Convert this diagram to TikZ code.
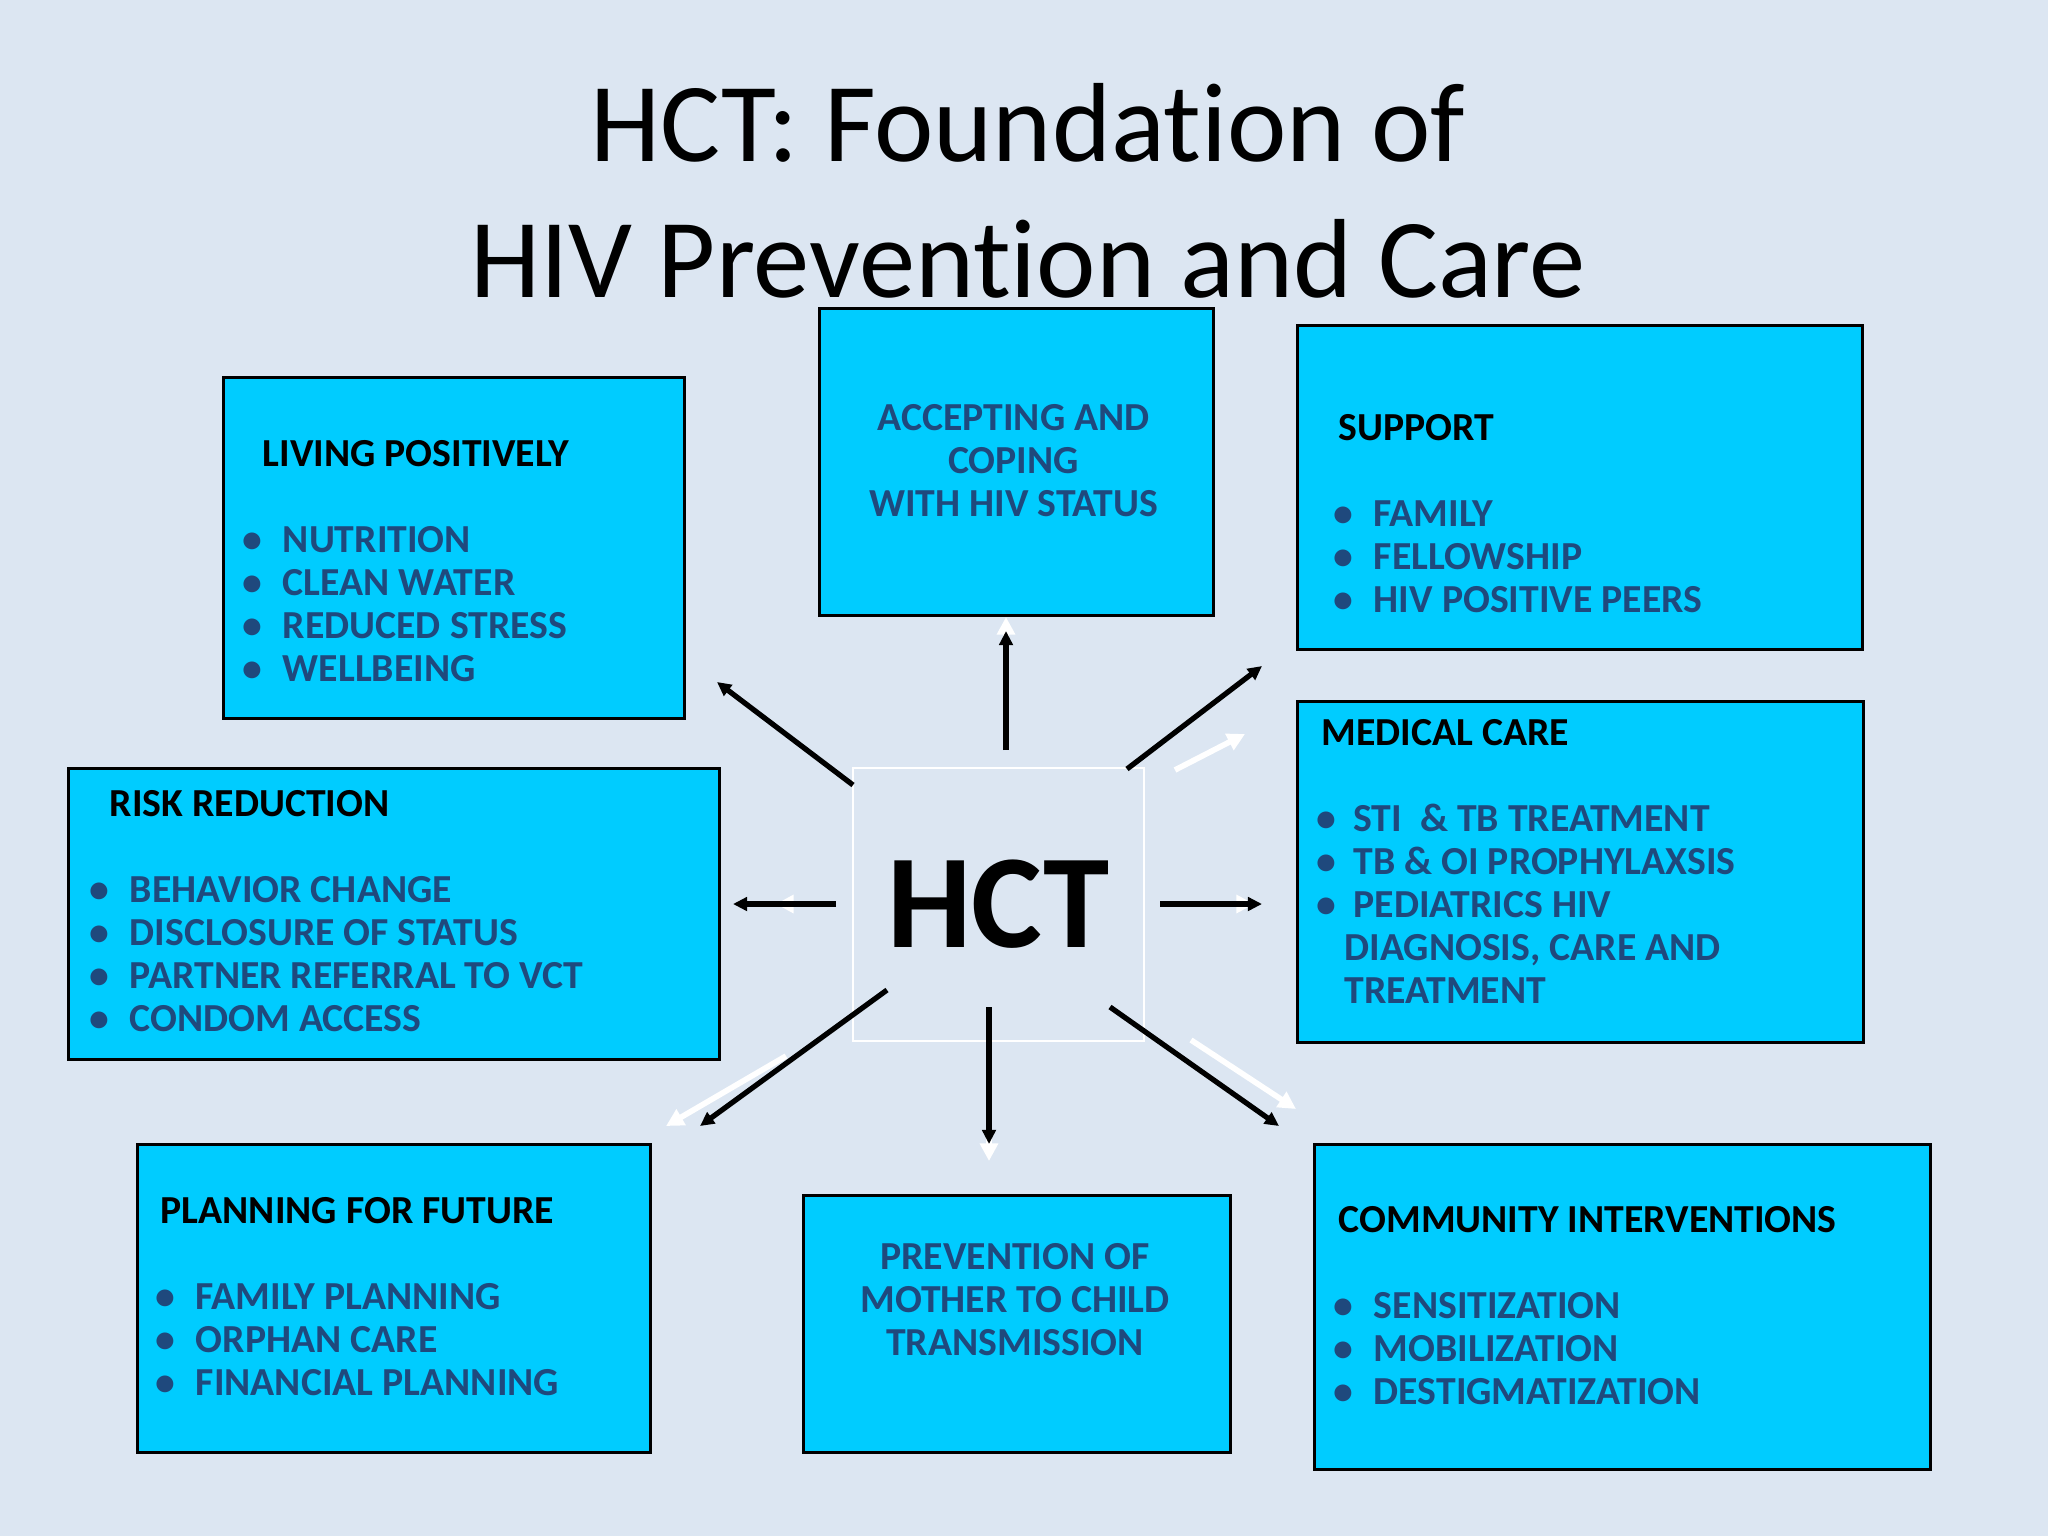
\documentclass[tikz,border=0pt]{standalone}
\usepackage{fontspec}
\setmainfont{Carlito}[Ligatures=NoCommon]
\usetikzlibrary{arrows.meta}
\definecolor{slidebg}{HTML}{DCE6F2}
\definecolor{boxcyan}{HTML}{00CCFF}
\definecolor{itemblue}{HTML}{1F497D}
\newcommand\bul[1][10pt]{\makebox[#1][l]{\hspace{-1.4pt}\textbullet}}
\newcommand\hd[1]{\textcolor{black}{#1}}

\begin{document}
\begin{tikzpicture}[x=0.01cm, y=-0.01cm,
  box/.style={draw=black, line width=0.8pt, fill=boxcyan, anchor=north west, inner sep=0pt},
  txt/.style={anchor=north west, inner sep=0pt, align=left, text=itemblue,
    font=\bfseries\fontsize{11.3}{12.2}\selectfont},
  ctr/.style={txt, anchor=north, align=center},
  blk/.style={line width=1.5pt, -{Triangle[length=4pt,width=3.8pt]}},
  wht/.style={white, line width=1.6pt, -{Triangle[length=5pt,width=5pt]}}
  ]
  \fill[slidebg] (0,0) rectangle (2048,1536);
  \node[font=\fontsize{32}{38.7}\selectfont, align=center, anchor=north, inner sep=0pt]
    (title) at (1028,83) {HCT: Foundat\kern0pt ion of\\HIV Prevent\kern0pt ion and Care};

  % boxes round the hub
  \node[box, minimum width=4.61cm, minimum height=3.41cm] (living) at (222,376) {};
  \node[box, minimum width=3.94cm, minimum height=3.07cm] (accept) at (818,307) {};
  \node[box, minimum width=5.65cm, minimum height=3.24cm] (support) at (1296,324) {};
  \node[box, minimum width=5.66cm, minimum height=3.41cm] (medical) at (1296,700) {};
  \node[box, minimum width=6.51cm, minimum height=2.91cm] (risk) at (67,767) {};
  \node[box, minimum width=5.13cm, minimum height=3.08cm] (planning) at (136,1143) {};
  \node[box, minimum width=4.27cm, minimum height=2.57cm] (prevent) at (802,1194) {};
  \node[box, minimum width=6.16cm, minimum height=3.25cm] (community) at (1313,1143) {};

  \node[txt] (livingT) at ([shift={(25,64)}]living.north west)
    {\hspace{4.3pt}\hd{LIVING POSITIVELY}\\[12.2pt]
     \bul NUTRITION\\ \bul CLEAN WATER\\ \bul REDUCED STRESS\\ \bul WELLBEING};
  \node[ctr] (acceptT) at ([shift={(-3,97)}]accept.north)
    {ACCEPTING AND\\COPING\\WITH HIV STATUS};
  \node[txt] (supportT) at ([shift={(42,90)}]support.north west)
    {\hd{SUPPORT}\\[12.2pt]
     \bul FAMILY\\ \bul FELLOWSHIP\\ \bul HIV POSITIVE PEERS};
  \node[txt] (medicalT) at ([shift={(25,19)}]medical.north west)
    {\hd{MEDICAL CARE}\\[12.2pt]
     \bul[6.5pt]\ STI\ \ \& TB TREATMENT\\
     \bul[6.5pt]\ TB \& OI PROPHYLAXSIS\\
     \bul[6.5pt]\ PEDIATRICS HIV\\
     \hspace{6.5pt}DIAGNOSIS, CARE AND\\
     \hspace{6.5pt}TREATMENT};
  \node[txt] (riskT) at ([shift={(27,23)}]risk.north west)
    {\hspace{4.3pt}\hd{RISK REDUCTION}\\[12.2pt]
     \bul BEHAVIOR CHANGE\\ \bul DISCLOSURE OF STATUS\\
     \bul PARTNER REFERRAL TO VCT\\ \bul CONDOM ACCESS};
  \node[txt] (planningT) at ([shift={(24,54)}]planning.north west)
    {\hd{PLANNING FOR FUTURE}\\[12.2pt]
     \bul FAMILY PLANNING\\ \bul ORPHAN CARE\\ \bul FINANCIAL PLANNING};
  \node[ctr] (preventT) at ([shift={(-2,49)}]prevent.north)
    {PREVENTION OF\\MOTHER TO CHILD\\TRANSMISSION};
  \node[txt] (communityT) at ([shift={(25,63)}]community.north west)
    {\hd{COMMUNITY INTERVENTIONS}\\[12.2pt]
     \bul SENSITIZATION\\ \bul MOBILIZATION\\ \bul DESTIGMATIZATION};

  % hub
  \node[draw=white, line width=0.5pt, minimum width=2.91cm, minimum height=2.73cm,
    inner sep=0pt, font=\bfseries\fontsize{38}{40}\selectfont] (hct) at (998.5,904.5) {HCT};

  % arrow ends
  \coordinate (upS) at (1006,750);  \coordinate (upE) at (1006,631);  \coordinate (upW) at (1006,617);
  \coordinate (nwS) at (853,785);   \coordinate (nwE) at (717,682);
  \coordinate (neS) at (1127,769);  \coordinate (neE) at (1262,666);
  \coordinate (neWS) at (1175,770); \coordinate (neWE) at (1245,734);
  \coordinate (lfS) at (836,904);   \coordinate (lfE) at (733,904);   \coordinate (lfW) at (776,904);
  \coordinate (rtS) at (1160,904);  \coordinate (rtE) at (1262,904);  \coordinate (rtW) at (1254,904);
  \coordinate (swS) at (887,990);   \coordinate (swE) at (700,1126);
  \coordinate (swWS) at (786,1056); \coordinate (swWE) at (666,1126);
  \coordinate (dnS) at (989,1007);  \coordinate (dnE) at (989,1144);  \coordinate (dnW) at (989,1161);
  \coordinate (seS) at (1110,1007); \coordinate (seE) at (1279,1126);
  \coordinate (seWS) at (1191,1040); \coordinate (seWE) at (1296,1109);

  \draw[wht] (upS) -- (upW);
  \draw[wht] (neWS) -- (neWE);
  \draw[wht] (lfS) -- (lfW);
  \draw[wht] (rtS) -- (rtW);
  \draw[wht] (swWS) -- (swWE);
  \draw[wht] (dnS) -- (dnW);
  \draw[wht] (seWS) -- (seWE);

  \draw[blk] (upS) -- (upE);
  \draw[blk] (nwS) -- (nwE);
  \draw[blk] (neS) -- (neE);
  \draw[blk] (lfS) -- (lfE);
  \draw[blk] (rtS) -- (rtE);
  \draw[blk] (swS) -- (swE);
  \draw[blk] (dnS) -- (dnE);
  \draw[blk] (seS) -- (seE);
\end{tikzpicture}
\end{document}
